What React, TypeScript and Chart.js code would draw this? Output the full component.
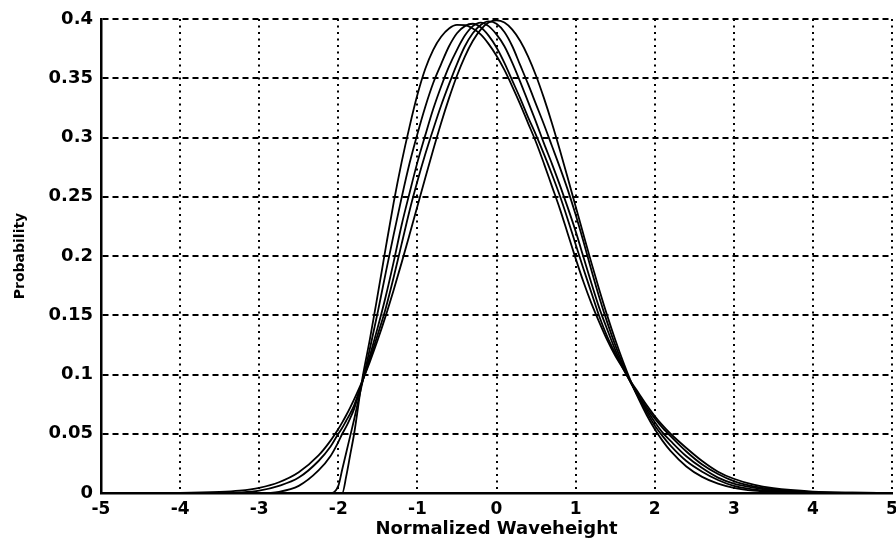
import React, { useEffect, useRef } from 'react';
import { Chart, registerables } from 'chart.js';

Chart.register(...registerables);

// Normalized waveheight sample positions
const waveheight = [
  -5, -4.5, -4, -3.5, -3.25, -3, -2.75, -2.5, -2.25, -2.1,
  -2.0, -1.95, -1.9, -1.85, -1.8, -1.7, -1.6, -1.5, -1.4, -1.3,
  -1.2, -1.1, -1.0, -0.9, -0.8, -0.7, -0.6, -0.5, -0.4, -0.3,
  -0.2, -0.1, 0, 0.1, 0.2, 0.3, 0.4, 0.5, 0.6, 0.7,
  0.8, 0.9, 1.0, 1.1, 1.2, 1.3, 1.4, 1.5, 1.6, 1.7,
  1.8, 1.9, 2.0, 2.1, 2.2, 2.4, 2.6, 2.8, 3.0, 3.25,
  3.5, 4, 4.5, 5,
];

// Curve A (symmetric)
const curveA = [
  0, 0, 0.0001, 0.0009, 0.002, 0.0044, 0.0091, 0.0175, 0.0317, 0.044,
  0.054, 0.0596, 0.0656, 0.0721, 0.079, 0.094, 0.1109, 0.1295, 0.1497, 0.1714,
  0.1942, 0.2179, 0.242, 0.2661, 0.2897, 0.3123, 0.3332, 0.3521, 0.3683, 0.3814,
  0.391, 0.397, 0.3989, 0.397, 0.391, 0.3814, 0.3683, 0.3521, 0.3332, 0.3123,
  0.2897, 0.2661, 0.242, 0.2179, 0.1942, 0.1714, 0.1497, 0.1295, 0.1109, 0.094,
  0.079, 0.0656, 0.054, 0.044, 0.0355, 0.0224, 0.0136, 0.0079, 0.0044, 0.002,
  0.0009, 0.0001, 0, 0,
];

// Curve B (slightly skewed)
const curveB = [
  0, 0, 0, 0, 0.0005, 0.002, 0.006, 0.013, 0.027, 0.039,
  0.05, 0.055, 0.061, 0.067, 0.074, 0.093, 0.113, 0.134, 0.156, 0.182,
  0.21, 0.238, 0.263, 0.286, 0.307, 0.327, 0.345, 0.362, 0.377, 0.388,
  0.395, 0.398, 0.396, 0.389, 0.377, 0.361, 0.345, 0.328, 0.311, 0.293,
  0.275, 0.256, 0.235, 0.212, 0.188, 0.165, 0.144, 0.125, 0.108, 0.093,
  0.08, 0.068, 0.057, 0.048, 0.04, 0.027, 0.018, 0.011, 0.006, 0.003,
  0.0015, 0.0003, 0.0001, 0,
];

// Curve C (moderately skewed)
const curveC = [
  0, 0, 0, 0, 0, 0, 0.001, 0.006, 0.019, 0.031,
  0.043, 0.05, 0.056, 0.063, 0.071, 0.093, 0.116, 0.14, 0.166, 0.195,
  0.226, 0.253, 0.279, 0.302, 0.324, 0.343, 0.36, 0.374, 0.386, 0.394,
  0.397, 0.394, 0.387, 0.377, 0.363, 0.347, 0.33, 0.313, 0.295, 0.278,
  0.26, 0.241, 0.221, 0.199, 0.177, 0.156, 0.138, 0.121, 0.106, 0.093,
  0.081, 0.07, 0.06, 0.051, 0.044, 0.031, 0.021, 0.013, 0.008, 0.0045,
  0.0022, 0.0005, 0.0001, 0,
];

// Curve D (strongly skewed)
const curveD = [
  0, 0, 0, 0, 0, 0, 0, 0, 0, 0,
  0.006, 0.02, 0.034, 0.048, 0.062, 0.092, 0.122, 0.153, 0.186, 0.218,
  0.249, 0.278, 0.303, 0.326, 0.346, 0.362, 0.377, 0.388, 0.394, 0.396,
  0.393, 0.386, 0.376, 0.363, 0.348, 0.333, 0.317, 0.302, 0.286, 0.269,
  0.251, 0.231, 0.21, 0.189, 0.169, 0.149, 0.132, 0.118, 0.105, 0.093,
  0.082, 0.072, 0.063, 0.055, 0.048, 0.035, 0.024, 0.016, 0.01, 0.0055,
  0.003, 0.0008, 0.0002, 0,
];

// Curve E (most skewed, sharp lower cut-off)
const curveE = [
  0, 0, 0, 0, 0, 0, 0, 0, 0, 0,
  0, 0, 0.014, 0.032, 0.05, 0.095, 0.13, 0.168, 0.207, 0.245,
  0.279, 0.309, 0.336, 0.358, 0.374, 0.385, 0.392, 0.395, 0.3948, 0.392,
  0.387, 0.379, 0.369, 0.357, 0.343, 0.328, 0.312, 0.296, 0.278, 0.259,
  0.24, 0.219, 0.198, 0.178, 0.16, 0.144, 0.129, 0.116, 0.105, 0.094,
  0.084, 0.074, 0.065, 0.057, 0.05, 0.038, 0.027, 0.018, 0.012, 0.007,
  0.004, 0.0012, 0.0003, 0,
];

const xTickValues = [-5, -4, -3, -2, -1, 0, 1, 2, 3, 4, 5];
const yTickValues = [0, 0.05, 0.1, 0.15, 0.2, 0.25, 0.3, 0.35, 0.4];
const yTickLabels = ['0', '0.05', '0.1', '0.15', '0.2', '0.25', '0.3', '0.35', '0.4'];

const xTitle = 'Normalized Waveheight';
const yTitle = 'Probability';

const allCurves = [curveA, curveB, curveC, curveD, curveE];

export default function App() {
  const canvasRef = useRef<HTMLCanvasElement | null>(null);

  useEffect(() => {
    document.body.style.margin = '0';
    const canvas = canvasRef.current;
    if (!canvas) return;

    const font = { family: "'DejaVu Sans', sans-serif", weight: 'bold' as const };

    const chart = new Chart(canvas, {
      type: 'line',
      data: {
        datasets: allCurves.map((curve, k) => ({
          label: 'curve ' + (k + 1),
          data: waveheight.map((x, i) => ({ x, y: curve[i] })),
          borderColor: '#000',
          borderWidth: 1.8,
          pointRadius: 0,
          fill: false,
          cubicInterpolationMode: 'monotone' as const,
        })),
      },
      options: {
        animation: false,
        responsive: false,
        devicePixelRatio: 1,
        layout: { padding: { top: 19, right: 4, bottom: 0, left: 0 } },
        plugins: {
          legend: { display: false },
          tooltip: { enabled: false },
        },
        scales: {
          x: {
            type: 'linear',
            min: -5,
            max: 5,
            afterBuildTicks: (scale: any) => {
              scale.ticks = xTickValues.map((v) => ({ value: v }));
            },
            afterFit: (scale: any) => {
              scale.height = 49;
              scale.paddingLeft = 0;
              scale.paddingRight = 0;
            },
            ticks: {
              color: '#000',
              font: { ...font, size: 17 },
              padding: 6,
              maxRotation: 0,
              autoSkip: false,
              callback: (v: any) => String(v),
            },
            grid: {
              color: '#000',
              lineWidth: 2,
              drawTicks: false,
            },
            border: {
              display: true,
              color: '#000',
              width: 2.5,
              dash: [2, 4.5],
            },
            title: {
              display: true,
              text: xTitle,
              color: '#000',
              font: { ...font, size: 18 },
              padding: { top: 0, bottom: 2 },
            },
          },
          y: {
            type: 'linear',
            min: 0,
            max: 0.4,
            afterBuildTicks: (scale: any) => {
              scale.ticks = yTickValues.map((v) => ({ value: v }));
            },
            afterFit: (scale: any) => {
              scale.width = 101;
              scale.paddingTop = 0;
              scale.paddingBottom = 0;
            },
            ticks: {
              color: '#000',
              font: { ...font, size: 18 },
              padding: 8,
              autoSkip: false,
              callback: (v: any) => {
                const idx = yTickValues.findIndex((t) => Math.abs(t - v) < 1e-9);
                return idx >= 0 ? yTickLabels[idx] : '';
              },
            },
            grid: {
              color: '#000',
              lineWidth: 2,
              drawTicks: false,
            },
            border: {
              display: true,
              color: '#000',
              width: 2.5,
              dash: [6, 4],
            },
            title: {
              display: true,
              text: yTitle,
              color: '#000',
              font: { ...font, size: 14 },
              padding: { top: 12, bottom: 0 },
            },
          },
        },
      },
    });

    return () => {
      chart.destroy();
    };
  }, []);

  return (
    <div style={{ width: 896, height: 542 }}>
      <canvas ref={canvasRef} width={896} height={542} style={{ display: 'block' }} />
    </div>
  );
}
